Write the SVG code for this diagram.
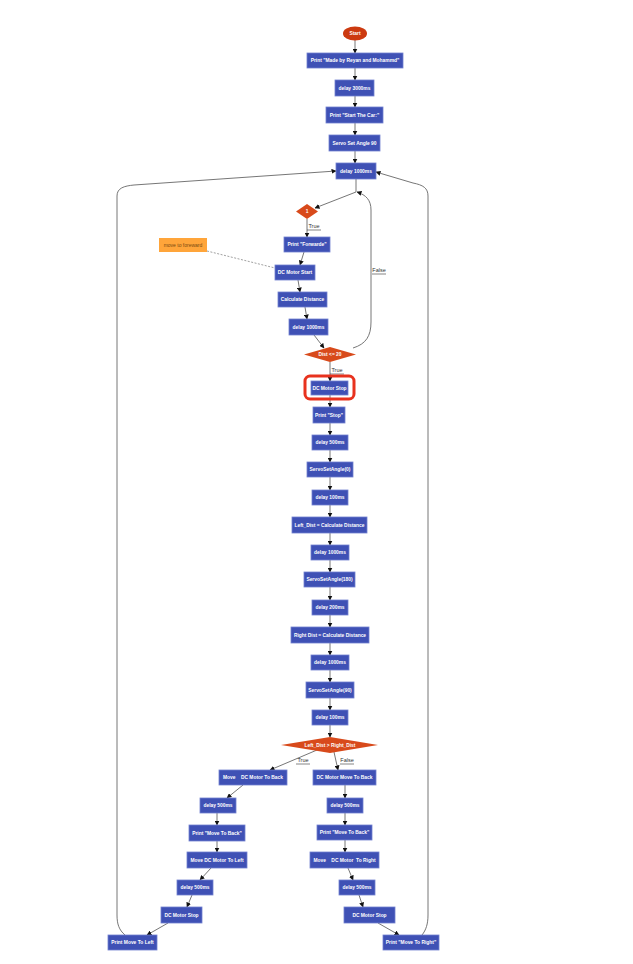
<svg xmlns="http://www.w3.org/2000/svg" width="633" height="964" viewBox="0 0 633 964">
<defs>
<style>
.b{fill:#3F51B5;stroke:#7281D0;stroke-width:0.8}
.t{font-family:"Liberation Sans",Arial,sans-serif;font-size:4.9px;font-weight:bold;fill:#fff;text-anchor:middle;dominant-baseline:central}
.d{fill:#D84A1B}
.c{fill:none;stroke:#666;stroke-width:0.9}
.l{font-family:"Liberation Sans",Arial,sans-serif;font-size:5.5px;fill:#333;text-anchor:middle}
.u{stroke:#333;stroke-width:0.6}
</style>
<marker id="a" viewBox="0 0 10 10" refX="9" refY="5" markerWidth="5" markerHeight="5" orient="auto-start-reverse" markerUnits="userSpaceOnUse"><path d="M0,0 L10,5 L0,10 z" fill="#111"/></marker>
</defs>
<rect width="633" height="964" fill="#fff"/>
<g id="connectors">
<line class="c" x1="355" y1="40" x2="355" y2="53" marker-end="url(#a)"/>
<line class="c" x1="355" y1="68" x2="355" y2="80" marker-end="url(#a)"/>
<line class="c" x1="355" y1="96" x2="355" y2="107" marker-end="url(#a)"/>
<line class="c" x1="355" y1="123" x2="355" y2="135" marker-end="url(#a)"/>
<line class="c" x1="355" y1="151" x2="355" y2="163" marker-end="url(#a)"/>
<line class="c" x1="356" y1="179" x2="356" y2="192"/>
<line class="c" x1="356" y1="192" x2="315" y2="208" marker-end="url(#a)"/>
<line class="c" x1="307" y1="219" x2="307" y2="237" marker-end="url(#a)"/>
<path class="c" d="M353,348 C366,344 371,336 371,322 L371,210 C371,200 366,195 357,192" marker-end="url(#a)"/>
<line class="c" x1="304" y1="252" x2="300" y2="265" marker-end="url(#a)"/>
<line class="c" x1="298" y1="280" x2="300" y2="292" marker-end="url(#a)"/>
<line class="c" x1="305" y1="307" x2="307" y2="319" marker-end="url(#a)"/>
<line class="c" x1="314" y1="335" x2="324" y2="348" marker-end="url(#a)"/>
<line x1="207" y1="251" x2="275" y2="268" stroke="#777" stroke-width="0.7" stroke-dasharray="2,1.5"/>
<line class="c" x1="330" y1="362" x2="330" y2="381" marker-end="url(#a)"/>
<line class="c" x1="330" y1="395" x2="330" y2="407" marker-end="url(#a)"/>
<line class="c" x1="330" y1="423" x2="330" y2="435" marker-end="url(#a)"/>
<line class="c" x1="330" y1="450" x2="330" y2="462" marker-end="url(#a)"/>
<line class="c" x1="330" y1="477" x2="330" y2="490" marker-end="url(#a)"/>
<line class="c" x1="330" y1="505" x2="330" y2="517" marker-end="url(#a)"/>
<line class="c" x1="330" y1="533" x2="330" y2="545" marker-end="url(#a)"/>
<line class="c" x1="330" y1="560" x2="330" y2="572" marker-end="url(#a)"/>
<line class="c" x1="330" y1="587" x2="330" y2="600" marker-end="url(#a)"/>
<line class="c" x1="330" y1="615" x2="330" y2="627" marker-end="url(#a)"/>
<line class="c" x1="330" y1="643" x2="330" y2="655" marker-end="url(#a)"/>
<line class="c" x1="330" y1="670" x2="330" y2="682" marker-end="url(#a)"/>
<line class="c" x1="330" y1="698" x2="330" y2="710" marker-end="url(#a)"/>
<line class="c" x1="330" y1="725" x2="330" y2="737" marker-end="url(#a)"/>
<line class="c" x1="317" y1="750" x2="270" y2="770" marker-end="url(#a)"/>
<line class="c" x1="334" y1="752" x2="338" y2="770" marker-end="url(#a)"/>
<line class="c" x1="243" y1="785" x2="227" y2="798" marker-end="url(#a)"/>
<line class="c" x1="345" y1="785" x2="345" y2="798" marker-end="url(#a)"/>
<line class="c" x1="217" y1="813" x2="217" y2="825" marker-end="url(#a)"/>
<line class="c" x1="217" y1="841" x2="217" y2="852" marker-end="url(#a)"/>
<line class="c" x1="211" y1="868" x2="200" y2="880" marker-end="url(#a)"/>
<line class="c" x1="192" y1="895" x2="187" y2="907" marker-end="url(#a)"/>
<line class="c" x1="168" y1="923" x2="147" y2="935" marker-end="url(#a)"/>
<line class="c" x1="345" y1="813" x2="345" y2="825" marker-end="url(#a)"/>
<line class="c" x1="345" y1="840" x2="345" y2="852" marker-end="url(#a)"/>
<line class="c" x1="348" y1="868" x2="353" y2="880" marker-end="url(#a)"/>
<line class="c" x1="359" y1="895" x2="363" y2="907" marker-end="url(#a)"/>
<line class="c" x1="378" y1="923" x2="399" y2="935" marker-end="url(#a)"/>
<path class="c" d="M125,935 C119,930 117,924 117,915 L117,196 C117,188 124,186 134,185 L336,171" marker-end="url(#a)"/>
<path class="c" d="M422,935 C426,930 428,924 428,915 L428,196 C428,188 423,185 413,183 L376,172" marker-end="url(#a)"/>
<text class="l" x="314" y="228">True</text><line class="u" x1="307" y1="230" x2="321" y2="230"/>
<text class="l" x="379" y="272">False</text><line class="u" x1="372" y1="274" x2="386" y2="274"/>
<text class="l" x="337" y="372">True</text><line class="u" x1="330" y1="374" x2="344" y2="374"/>
<text class="l" x="303" y="762">True</text><line class="u" x1="296" y1="764" x2="310" y2="764"/>
<text class="l" x="347" y="762">False</text><line class="u" x1="340" y1="764" x2="354" y2="764"/>
</g>
<g id="start"><ellipse cx="355" cy="33.5" rx="12" ry="7" fill="#CC3A10"/><text class="t" x="355" y="33.5">Start</text></g>
<g id="n1"><rect class="b" x="307" y="53" width="96" height="15"/><text class="t" x="355" y="60.5">Print "Made by Reyan and Mohammd"</text></g>
<g id="n2"><rect class="b" x="335" y="80" width="39" height="16"/><text class="t" x="354.5" y="88">delay 3000ms</text></g>
<g id="n3"><rect class="b" x="326" y="107" width="57" height="16"/><text class="t" x="354.5" y="115">Print "Start The Car:"</text></g>
<g id="n4"><rect class="b" x="329" y="135" width="51" height="16"/><text class="t" x="354.5" y="143">Servo Set Angle 90</text></g>
<g id="n5"><rect class="b" x="336" y="163" width="40" height="16"/><text class="t" x="356" y="171">delay 1000ms</text></g>
<g id="d1"><polygon class="d" points="296,211.5 307,204 318,211.5 307,219"/><text class="t" x="307" y="211.5">1</text></g>
<g id="note"><rect x="159" y="238" width="48" height="14" fill="#FFA53A"/><text x="183" y="245" font-family="Liberation Sans,Arial,sans-serif" font-size="5px" fill="#7A4A10" text-anchor="middle" dominant-baseline="central">move to foreward</text></g>
<g id="n6"><rect class="b" x="284" y="237" width="46" height="15"/><text class="t" x="307" y="244.5">Print "Forwarde"</text></g>
<g id="n7"><rect class="b" x="275" y="265" width="40" height="15"/><text class="t" x="295" y="272.5">DC Motor Start</text></g>
<g id="n8"><rect class="b" x="278" y="292" width="49" height="15"/><text class="t" x="302.5" y="299.5">Calculate Distance</text></g>
<g id="n9"><rect class="b" x="289" y="319" width="39" height="16"/><text class="t" x="308.5" y="327">delay 1000ms</text></g>
<g id="d2"><polygon class="d" points="304,354.5 330,347 356,354.5 330,362"/><text class="t" x="330" y="354.5">Dist &lt;= 20</text></g>
<g id="n10"><rect x="305" y="376" width="49" height="23" rx="5" fill="none" stroke="#E8321E" stroke-width="3"/><rect class="b" x="311" y="381" width="37" height="14"/><text class="t" x="329.5" y="388">DC Motor Stop</text></g>
<g id="n11"><rect class="b" x="313" y="407" width="32" height="16"/><text class="t" x="329" y="415">Print "Stop"</text></g>
<g id="n12"><rect class="b" x="312" y="435" width="36" height="15"/><text class="t" x="330" y="442.5">delay 500ms</text></g>
<g id="n13"><rect class="b" x="307" y="462" width="46" height="15"/><text class="t" x="330" y="469.5">ServoSetAngle(0)</text></g>
<g id="n14"><rect class="b" x="312" y="490" width="36" height="15"/><text class="t" x="330" y="497.5">delay 100ms</text></g>
<g id="n15"><rect class="b" x="292" y="517" width="75" height="16"/><text class="t" x="329.5" y="525">Left_Dist = Calculate Distance</text></g>
<g id="n16"><rect class="b" x="311" y="545" width="38" height="15"/><text class="t" x="330" y="552.5">delay 1000ms</text></g>
<g id="n17"><rect class="b" x="304" y="572" width="51" height="15"/><text class="t" x="329.5" y="579.5">ServoSetAngle(180)</text></g>
<g id="n18"><rect class="b" x="312" y="600" width="36" height="15"/><text class="t" x="330" y="607.5">delay 200ms</text></g>
<g id="n19"><rect class="b" x="291" y="627" width="78" height="16"/><text class="t" x="330" y="635">Right Dist = Calculate Distance</text></g>
<g id="n20"><rect class="b" x="311" y="655" width="38" height="15"/><text class="t" x="330" y="662.5">delay 1000ms</text></g>
<g id="n21"><rect class="b" x="306" y="682" width="48" height="16"/><text class="t" x="330" y="690">ServoSetAngle(90)</text></g>
<g id="n22"><rect class="b" x="312" y="710" width="36" height="15"/><text class="t" x="330" y="717.5">delay 100ms</text></g>
<g id="d3"><polygon class="d" points="281,745 330,737 378,745 330,753"/><text class="t" x="330" y="745">Left_Dist &gt; Right_Dist</text></g>
<g id="l1"><rect class="b" x="219" y="770" width="68" height="15"/><text class="t" x="253" y="777.5" xml:space="preserve">Move    DC Motor To Back</text></g>
<g id="l2"><rect class="b" x="200" y="798" width="36" height="15"/><text class="t" x="218" y="805.5">delay 500ms</text></g>
<g id="l3"><rect class="b" x="189" y="825" width="56" height="16"/><text class="t" x="217" y="833">Print "Move To Back"</text></g>
<g id="l4"><rect class="b" x="187" y="852" width="60" height="16"/><text class="t" x="217" y="860">Move DC Motor To Left</text></g>
<g id="l5"><rect class="b" x="177" y="880" width="36" height="15"/><text class="t" x="195" y="887.5">delay 500ms</text></g>
<g id="l6"><rect class="b" x="161" y="907" width="41" height="16"/><text class="t" x="181.5" y="915">DC Motor Stop</text></g>
<g id="l7"><rect class="b" x="108" y="935" width="49" height="15"/><text class="t" x="132.5" y="942.5">Print Move To Left</text></g>
<g id="r1"><rect class="b" x="313" y="770" width="63" height="15"/><text class="t" x="344.5" y="777.5">DC Motor Move To Back</text></g>
<g id="r2"><rect class="b" x="327" y="798" width="36" height="15"/><text class="t" x="345" y="805.5">delay 500ms</text></g>
<g id="r3"><rect class="b" x="317" y="825" width="55" height="15"/><text class="t" x="344.5" y="832.5">Print "Move To Back"</text></g>
<g id="r4"><rect class="b" x="310" y="852" width="69" height="16"/><text class="t" x="344.5" y="860" xml:space="preserve">Move    DC Motor  To Right</text></g>
<g id="r5"><rect class="b" x="339" y="880" width="36" height="15"/><text class="t" x="357" y="887.5">delay 500ms</text></g>
<g id="r6"><rect class="b" x="344" y="907" width="51" height="16"/><text class="t" x="369.5" y="915">DC Motor Stop</text></g>
<g id="r7"><rect class="b" x="383" y="935" width="56" height="15"/><text class="t" x="411" y="942.5">Print "Move To Right"</text></g>
</svg>
